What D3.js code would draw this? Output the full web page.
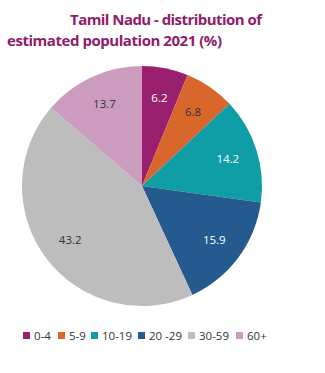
<!DOCTYPE html>
<html>
<head>
<meta charset="utf-8">
<script src="https://cdn.jsdelivr.net/npm/d3@7"></script>
<style>
  body { margin: 0; background: #fff; }
  text { font-family: "Open Sans", "Noto Sans", sans-serif; }
</style>
</head>
<body>
<script>
// data
const groups = ["0-4", "5-9", "10-19", "20 -29", "30-59", "60+"];
const shares = [6.2, 6.8, 14.2, 15.9, 43.2, 13.7];
const colours = ["#99206f", "#d9662a", "#0f9ea6", "#255a8f", "#bdbdbd", "#cc9cbf"];
const labelInk = ["#fff", "#333", "#fff", "#fff", "#333", "#333"];
const titleLines = ["Tamil Nadu - distribution of", "estimated population 2021 (%)"];

var w = 325, h = 373;
var cx = 142, cy = 186, R = 120;

document.addEventListener("DOMContentLoaded", () => {
    var svg = d3.select("body").append("svg")
        .attr("width", w)
        .attr("height", h);

    // title
    svg.append("text")
        .attr("x", 70).attr("y", 25)
        .attr("fill", "#8f1d6b")
        .attr("font-weight", "bold")
        .attr("font-size", 15)
        .attr("textLength", 192)
        .text(titleLines[0]);
    svg.append("text")
        .attr("x", 7).attr("y", 46)
        .attr("fill", "#8f1d6b")
        .attr("font-weight", "bold")
        .attr("font-size", 15)
        .attr("textLength", 215)
        .text(titleLines[1]);

    var pie = d3.pie().sort(null).value(d => d)(shares);
    var arc = d3.arc().innerRadius(0).outerRadius(R);
    var labelArc = d3.arc().innerRadius(90).outerRadius(90);

    var g = svg.append("g").attr("transform", `translate(${cx},${cy})`);

    g.selectAll("path")
        .data(pie)
        .enter()
        .append("path")
        .attr("d", arc)
        .attr("fill", (d, i) => colours[i]);

    g.selectAll(".lbl")
        .data(pie)
        .enter()
        .append("text")
        .attr("class", "lbl")
        .attr("transform", d => `translate(${labelArc.centroid(d)})`)
        .attr("text-anchor", "middle")
        .attr("dy", "0.35em")
        .attr("font-size", 11.5)
        .attr("fill", (d, i) => labelInk[i])
        .text(d => d.data.toFixed(1));

    // legend
    var legX = [23, 58, 91, 138, 188, 236];
    var leg = svg.append("g").selectAll("g")
        .data(groups)
        .enter()
        .append("g")
        .attr("transform", (d, i) => `translate(${legX[i]},332)`);
    leg.append("rect")
        .attr("width", 7).attr("height", 7)
        .attr("fill", (d, i) => colours[i]);
    leg.append("text")
        .attr("x", 11).attr("y", 8)
        .attr("font-size", 11.5)
        .attr("fill", "#333")
        .text(d => d);
});
</script>
</body>
</html>
